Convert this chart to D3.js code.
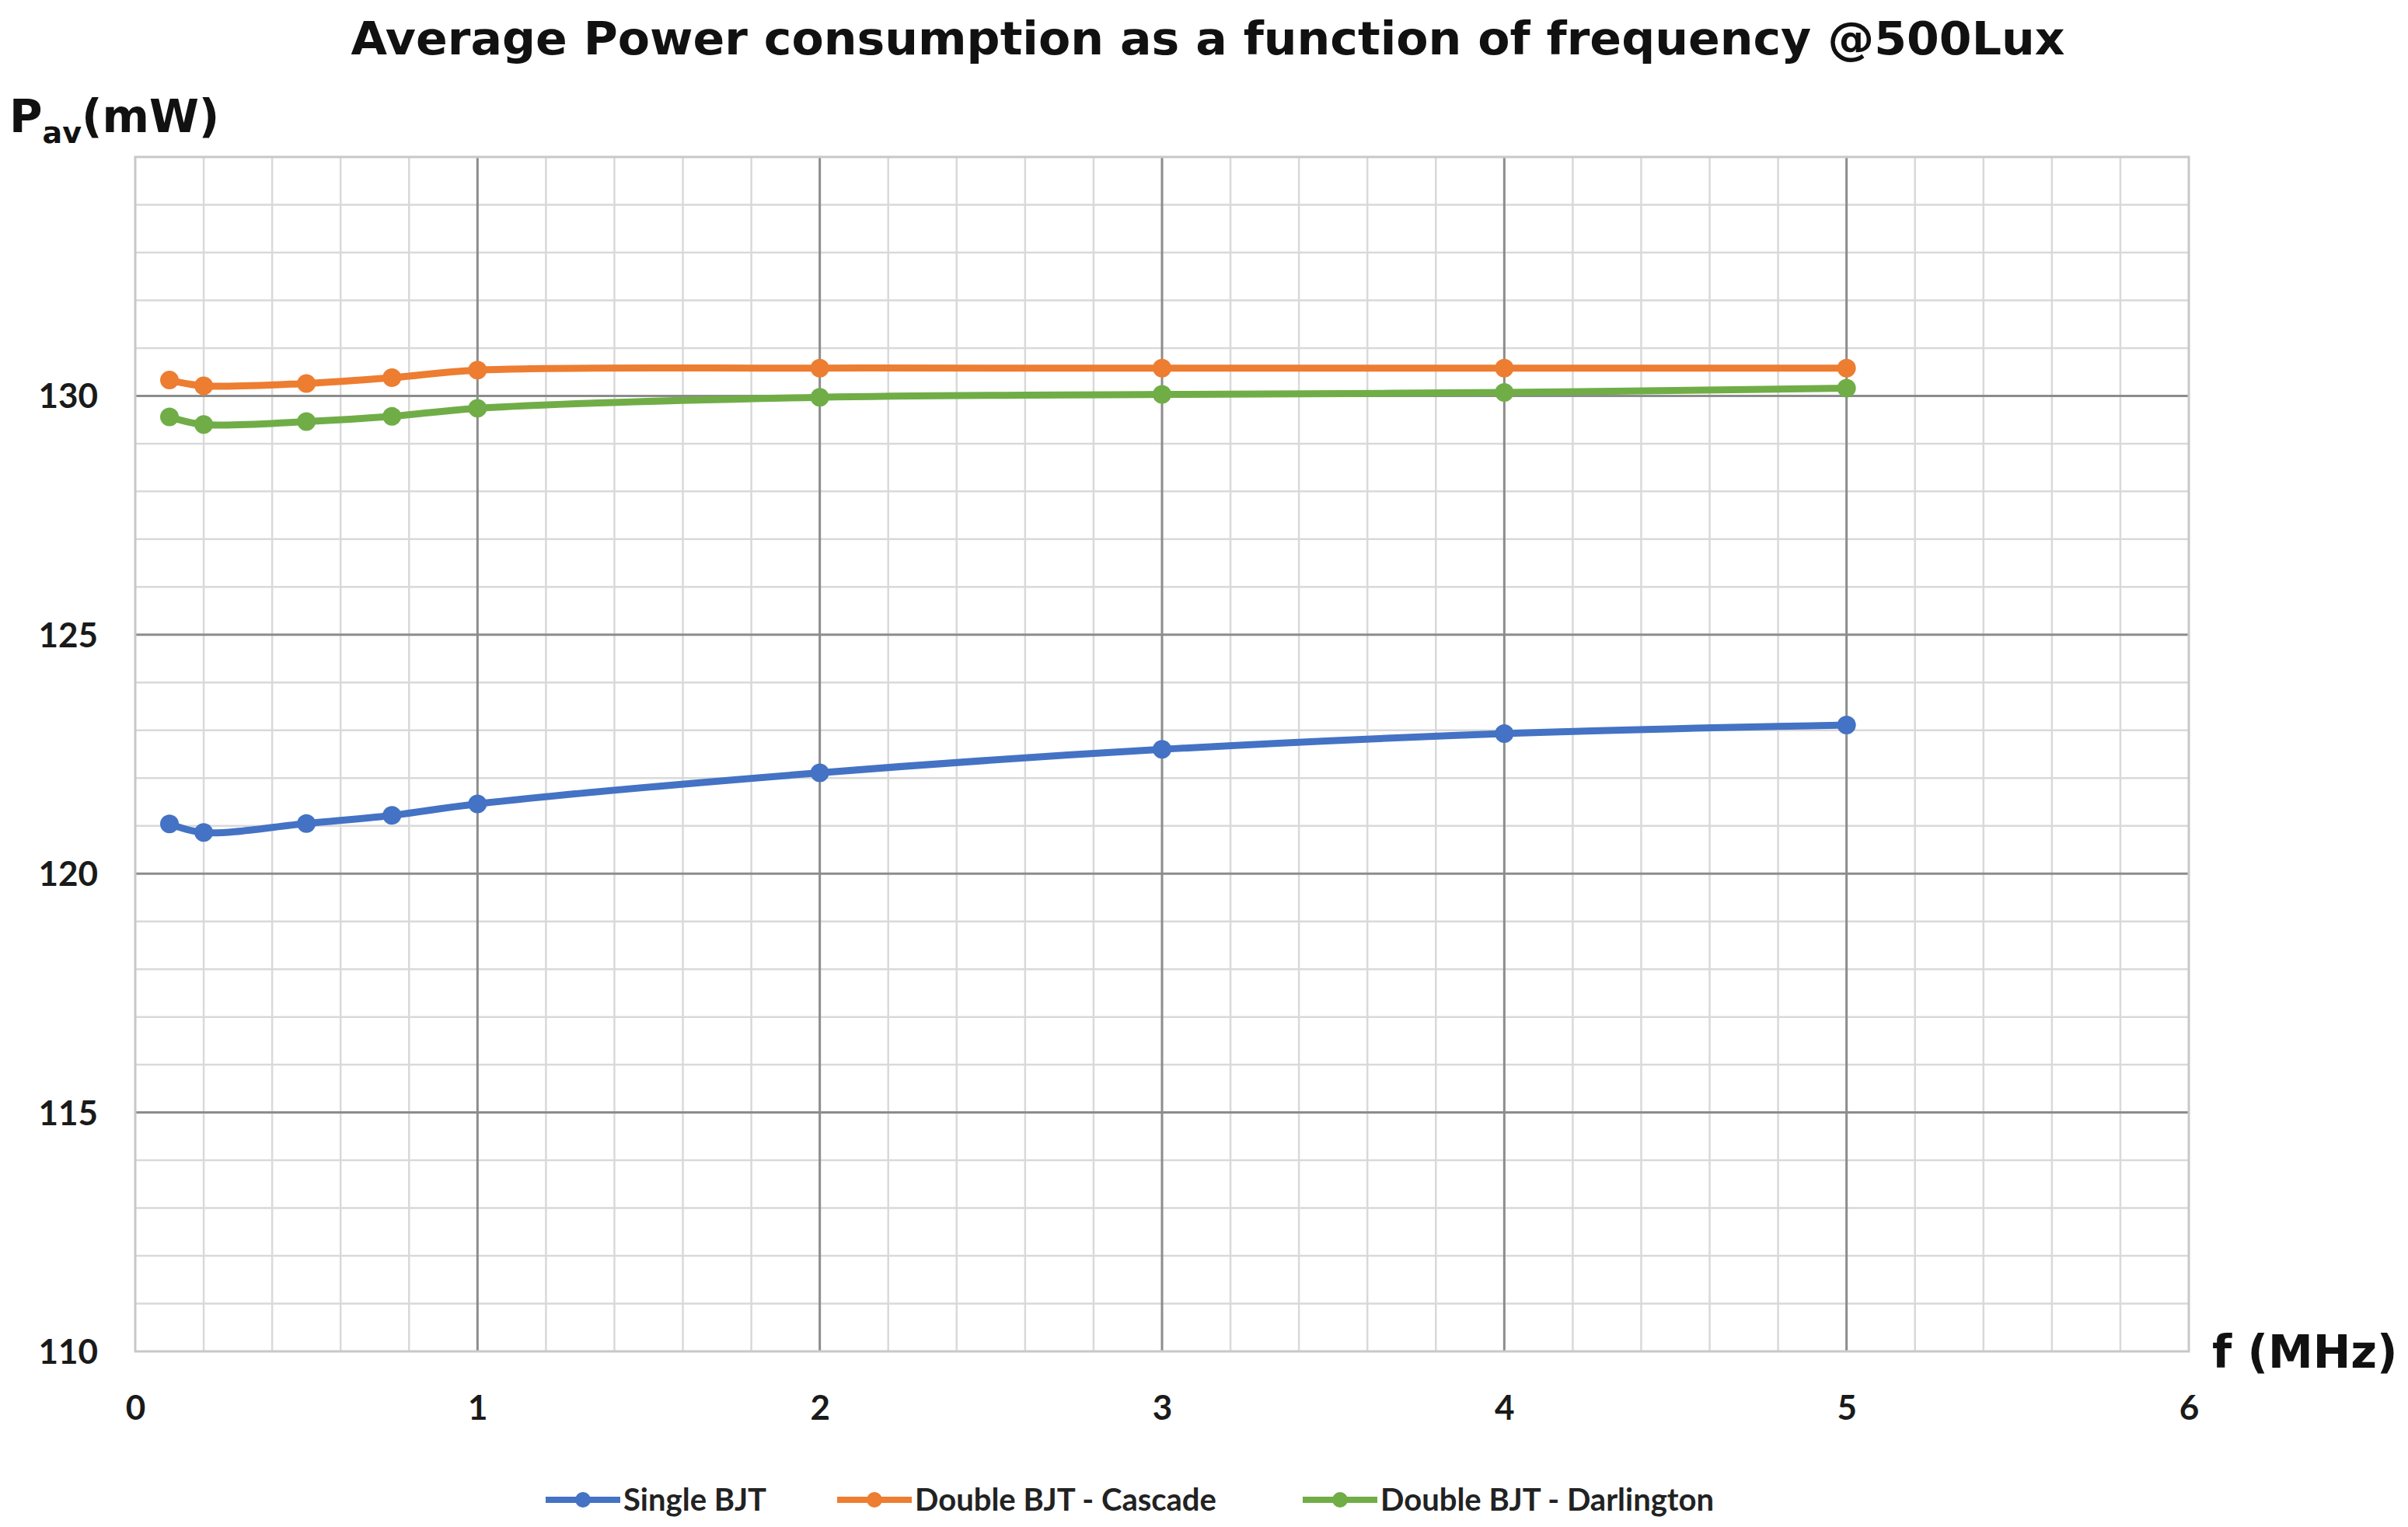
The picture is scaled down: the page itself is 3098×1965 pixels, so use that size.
<!DOCTYPE html>
<html>
<head>
<meta charset="utf-8">
<script src="https://cdn.jsdelivr.net/npm/d3@7"></script>
<style>
  html, body { margin: 0; padding: 0; background: #fff; }
  svg { display: block; }
</style>
</head>
<body>
<svg id="chart" width="3098" height="1965"></svg>
<script>
// frequencies (MHz)
const freqs = [0.1, 0.2, 0.5, 0.75, 1, 2, 3, 4, 5]
// average power (mW)
const singleBJT = [121.04, 120.86, 121.05, 121.22, 121.46, 122.11, 122.60, 122.93, 123.11]
const cascade = [130.33, 130.21, 130.26, 130.38, 130.54, 130.58, 130.58, 130.58, 130.58]
const darlington = [129.56, 129.40, 129.46, 129.57, 129.74, 129.97, 130.03, 130.07, 130.16]

const seriesNames = ["Single BJT", "Double BJT - Cascade", "Double BJT - Darlington"]
const seriesColors = ["#4472C4", "#ED7D31", "#70AD47"]
const xTicks = [0, 1, 2, 3, 4, 5, 6]
const yTicks = [110, 115, 120, 125, 130]

const titleText = "Average Power consumption as a function of frequency @500Lux"

let svg = d3.select("#chart")

let x = d3.scaleLinear().domain([0, 6]).range([174, 2816])
let y = d3.scaleLinear().domain([110, 135]).range([1739, 202])

let series = [singleBJT, cascade, darlington].map((vals, i) => ({
	name: seriesNames[i],
	color: seriesColors[i],
	points: freqs.map((f, j) => ({f: f, p: vals[j]}))
}))

// Minor grid
let grid = svg.append("g").attr("class", "grid")
grid.selectAll("line.minor-x")
  .data(d3.range(0, 30).map(d => d / 5).filter(d => d % 1 !== 0))
  .enter().append("line")
	.attr("x1", d => x(d)).attr("x2", d => x(d))
	.attr("y1", y(110)).attr("y2", y(135))
	.attr("stroke", "#d9d9d9").attr("stroke-width", 2.5)
grid.selectAll("line.minor-y")
  .data(d3.range(111, 135).filter(d => d % 5 !== 0))
  .enter().append("line")
	.attr("x1", x(0)).attr("x2", x(6))
	.attr("y1", d => y(d)).attr("y2", d => y(d))
	.attr("stroke", "#d9d9d9").attr("stroke-width", 2.5)

// Major grid
grid.selectAll("line.major-x")
  .data([1, 2, 3, 4, 5])
  .enter().append("line")
	.attr("x1", d => x(d)).attr("x2", d => x(d))
	.attr("y1", y(110)).attr("y2", y(135))
	.attr("stroke", "#8c8c8c").attr("stroke-width", 3)
grid.selectAll("line.major-y")
  .data([115, 120, 125, 130])
  .enter().append("line")
	.attr("x1", x(0)).attr("x2", x(6))
	.attr("y1", d => y(d)).attr("y2", d => y(d))
	.attr("stroke", "#8c8c8c").attr("stroke-width", 3)

// plot border
svg.append("rect")
	.attr("x", x(0)).attr("y", y(135))
	.attr("width", x(6) - x(0)).attr("height", y(110) - y(135))
	.attr("fill", "none").attr("stroke", "#c8c8c8").attr("stroke-width", 3)

// Axes (labels only)
let xaxis = d3.axisBottom(x).tickValues(xTicks).tickSize(0).tickPadding(0).tickFormat(d3.format("d"))
let gx = svg.append("g").attr("transform", "translate(0,1827)").call(xaxis)
gx.select(".domain").remove()
gx.selectAll("text")
	.attr("dy", 0)
	.style("font-family", "Lato, 'Open Sans', sans-serif")
	.style("font-weight", "bold")
	.style("font-size", "44px")
	.attr("fill", "#1a1a1a")

let yaxis = d3.axisLeft(y).tickValues(yTicks).tickSize(0).tickPadding(0).tickFormat(d3.format("d"))
let gy = svg.append("g").attr("transform", "translate(126,0)").call(yaxis)
gy.select(".domain").remove()
gy.selectAll("text")
	.attr("dy", "0.35em")
	.style("font-family", "Lato, 'Open Sans', sans-serif")
	.style("font-weight", "bold")
	.style("font-size", "44px")
	.attr("fill", "#1a1a1a")

// Lines
let line = d3.line()
	.x(d => x(d.f))
	.y(d => y(d.p))
	.curve(d3.curveCatmullRom.alpha(0.5))

let sg = svg.selectAll("g.series")
  .data(series)
  .enter().append("g").attr("class", "series")

sg.append("path")
	.attr("d", d => line(d.points))
	.attr("fill", "none")
	.attr("stroke", d => d.color)
	.attr("stroke-width", 9)
	.attr("stroke-linejoin", "round")
	.attr("stroke-linecap", "round")

sg.selectAll("circle")
  .data(d => d.points.map(p => ({p: p, color: d.color})))
  .enter().append("circle")
	.attr("cx", d => x(d.p.f))
	.attr("cy", d => y(d.p.p))
	.attr("r", 12)
	.attr("fill", d => d.color)

// Title
svg.append("text")
	.attr("x", 1554).attr("y", 70)
	.attr("text-anchor", "middle")
	.attr("textLength", 2205)
	.attr("lengthAdjust", "spacingAndGlyphs")
	.style("font-family", "'DejaVu Sans', Verdana, sans-serif")
	.style("font-weight", "bold")
	.style("font-size", "58px")
	.attr("fill", "#111")
	.text(titleText)

// Y axis title
let yt = svg.append("text")
	.attr("x", 12).attr("y", 170)
	.style("font-family", "'DejaVu Sans', Verdana, sans-serif")
	.style("font-weight", "bold")
	.style("font-size", "58px")
	.attr("fill", "#111")
yt.append("tspan").text("P")
yt.append("tspan").attr("dy", 14).style("font-size", "38px").text("av")
yt.append("tspan").attr("dy", -14).text("(mW)")

// X axis title
svg.append("text")
	.attr("x", 2846).attr("y", 1760)
	.style("font-family", "'DejaVu Sans', Verdana, sans-serif")
	.style("font-weight", "bold")
	.style("font-size", "58px")
	.attr("fill", "#111")
	.text("f (MHz)")

// Legend
let legendX = [702, 1077, 1676]
let lg = svg.selectAll("g.legend")
  .data(series)
  .enter().append("g").attr("class", "legend")
	.attr("transform", (d, i) => "translate(" + legendX[i] + ",1930)")
lg.append("line")
	.attr("x1", 0).attr("x2", 96).attr("y1", 0).attr("y2", 0)
	.attr("stroke", d => d.color).attr("stroke-width", 8)
lg.append("circle")
	.attr("cx", 48).attr("cy", 0).attr("r", 10)
	.attr("fill", d => d.color)
lg.append("text")
	.attr("x", 100).attr("y", 0).attr("dy", "0.35em")
	.style("font-family", "Lato, 'Open Sans', sans-serif")
	.style("font-weight", "bold")
	.style("font-size", "40px")
	.attr("fill", "#222")
	.text(d => d.name)
</script>
</body>
</html>
